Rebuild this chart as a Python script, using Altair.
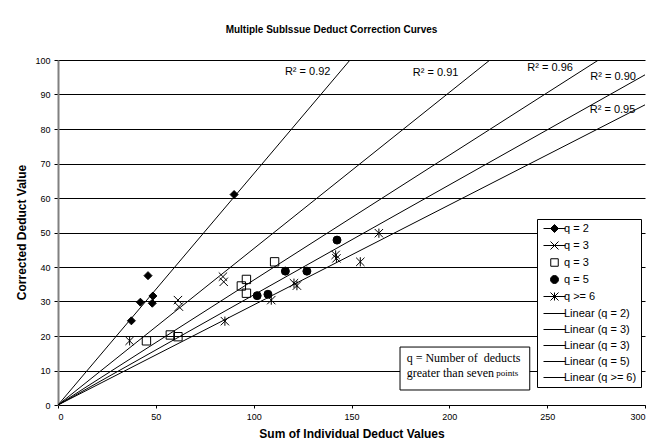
import altair as alt
import pandas as pd

# ---------------- data ----------------
q2_x = [37.5, 42.1, 46.0, 48.5, 48.2, 90.0]
q2_y = [24.4, 29.8, 37.5, 31.6, 29.5, 61.0]

q3x_x = [61.3, 61.8, 84.3, 84.7]
q3x_y = [30.4, 28.5, 37.2, 35.7]

q3s_x = [45.2, 57.4, 61.3, 93.7, 96.3, 96.3, 110.7]
q3s_y = [18.6, 20.3, 19.8, 34.5, 36.4, 32.4, 41.5]

q5_x = [101.8, 107.3, 116.2, 127.2, 142.6]
q5_y = [31.7, 32.1, 38.8, 38.8, 47.8]

q6_x = [36.6, 85.3, 109.0, 120.6, 122.1, 141.9, 142.3, 154.5, 164.0]
q6_y = [18.6, 24.3, 30.4, 35.3, 34.6, 43.5, 42.5, 41.5, 49.8]

# trend lines through the origin (slope)
fit_names = ["Linear (q = 2)", "Linear (q = 3)", "Linear (q = 3) ", "Linear (q = 5)", "Linear (q >= 6)"]
fit_slopes = [0.67, 0.453, 0.362, 0.319, 0.29]
fit_x_range = [0, 300]

# R^2 labels
r2_text = ["R\u00b2 = 0.92", "R\u00b2 = 0.91", "R\u00b2 = 0.96", "R\u00b2 = 0.90", "R\u00b2 = 0.95"]
r2_x = [127.6, 193.0, 251.5, 283.7, 283.4]
r2_y = [96.6, 96.3, 97.7, 95.2, 85.5]

# note box
note_box = [174.8, 241.1, 4.35, 16.8]
note_line1 = "q = Number of\u00a0 deducts"
note_line2 = "greater than seven"
note_small = "points"
note_x = [178.2, 224.0]
note_y = [13.7, 9.4]

legend_labels = ["q = 2", "q = 3", "q = 3 ", "q = 5", "q >= 6"] + fit_names
legend_paths = [
    "M-2.2,0L2.2,0M0,-0.8L0.8,0L0,0.8L-0.8,0Z",
    "M-2.2,0L2.2,0M-0.8,-0.8L0.8,0.8M-0.8,0.8L0.8,-0.8",
    "M-0.75,-0.75L0.75,-0.75L0.75,0.75L-0.75,0.75Z",
    "M0.8,0A0.8,0.8,0,1,1,-0.8,0A0.8,0.8,0,1,1,0.8,0Z",
    "M-2.2,0L2.2,0M-0.8,-0.8L0.8,0.8M-0.8,0.8L0.8,-0.8M0,-0.8L0,0.8",
] + ["M-2.2,0L2.2,0"] * 5
legend_fills = ["black", "transparent", "transparent", "black", "transparent"] + ["transparent"] * 5

FONT = "Liberation Sans"
X_PATH = "M-1,-1L1,1M-1,1L1,-1"
STAR_PATH = "M-1,-1L1,1M-1,1L1,-1M0,-1.1L0,1.1"

xs = alt.Scale(domain=[0, 300], nice=False)
ys = alt.Scale(domain=[0, 100], nice=False)

x_axis = alt.Axis(values=[0, 50, 100, 150, 200, 250, 300], grid=False, domainColor="black",
                  domainWidth=1, tickColor="black", tickSize=3, labelFont=FONT, labelFontSize=9,
                  labelColor="black", labelPadding=4, title="Sum of Individual Deduct Values",
                  titleFont=FONT, titleFontSize=12, titleFontWeight="bold", titleColor="black",
                  titleY=28, titleBaseline="middle")
y_axis = alt.Axis(values=list(range(0, 101, 10)), grid=True, gridColor="black", gridWidth=1,
                  gridOpacity=1, domainColor="#808080", domainWidth=2, tickColor="black",
                  tickSize=4, labelFont=FONT, labelFontSize=9, labelColor="black", labelPadding=4,
                  labelOverlap=False,
                  title="Corrected Deduct Value", titleFont=FONT, titleFontSize=12,
                  titleFontWeight="bold", titleColor="black", titleX=-37, titleY=172,
                  titleBaseline="middle", titleAlign="center")

X = alt.X("x:Q", scale=xs, axis=x_axis)
Y = alt.Y("y:Q", scale=ys, axis=y_axis)

fit_rows = []
for name, s in zip(fit_names, fit_slopes):
    for xv in fit_x_range:
        fit_rows.append({"fit": name, "x": xv, "slope": s})
fit_df = pd.DataFrame(fit_rows)

lines = alt.Chart(fit_df).transform_calculate(y="datum.slope * datum.x").mark_line(
    clip=True, color="black", strokeWidth=1
).encode(x=X, y=Y, detail="fit:N")


def pts(xv, yv, shape, filled, size):
    df = pd.DataFrame({"x": xv, "y": yv})
    return alt.Chart(df).mark_point(
        shape=shape, filled=filled, size=size, opacity=1, strokeWidth=1,
        color="black", stroke="black", fill="black" if filled else "transparent",
    ).encode(x=X, y=Y)


p_q2 = pts(q2_x, q2_y, "diamond", True, 64)
p_q3x = pts(q3x_x, q3x_y, X_PATH, False, 70)
p_q3s = pts(q3s_x, q3s_y, "square", False, 70)
p_q5 = pts(q5_x, q5_y, "circle", True, 64)
p_q6 = pts(q6_x, q6_y, STAR_PATH, False, 70)

r2_df = pd.DataFrame({"x": r2_x, "y": r2_y, "t": r2_text})
r2 = alt.Chart(r2_df).mark_text(font=FONT, fontSize=11, color="black", align="center",
                                baseline="middle").encode(x=X, y=Y, text="t:N")

box_df = pd.DataFrame({"x": [note_box[0]], "x2": [note_box[1]], "y": [note_box[2]], "y2": [note_box[3]]})
box = alt.Chart(box_df).mark_rect(fill="white", stroke="black", strokeWidth=1).encode(
    x=X, x2="x2", y=Y, y2="y2")

note_df = pd.DataFrame({"x": [note_x[0], note_x[0]], "y": [note_y[0], note_y[1]],
                        "t": [note_line1, note_line2]})
note = alt.Chart(note_df).mark_text(font="Liberation Serif", fontSize=12, color="black",
                                    align="left", baseline="middle").encode(x=X, y=Y, text="t:N")
note2_df = pd.DataFrame({"x": [note_x[1]], "y": [note_y[1]], "t": [note_small]})
note2 = alt.Chart(note2_df).mark_text(font="Liberation Serif", fontSize=9, color="black",
                                      align="left", baseline="middle").encode(x=X, y=Y, text="t:N")

leg_props = dict(orient="none", legendX=479, legendY=159, title=None, padding=4,
                 strokeColor="black", fillColor="white", labelFont=FONT, labelFontSize=11,
                 labelColor="black", symbolSize=100, rowPadding=4, labelOffset=4,
                 symbolStrokeWidth=1, symbolOffset=8)
leg_df = pd.DataFrame({"label": legend_labels})
legend_layer = alt.Chart(leg_df).mark_point(
    clip=True, filled=True, size=100, opacity=1, strokeWidth=1
).encode(
    x=alt.value(-200), y=alt.value(-200),
    shape=alt.Shape("label:N", scale=alt.Scale(domain=legend_labels, range=legend_paths),
                    legend=alt.Legend(**leg_props)),
    fill=alt.Fill("label:N", scale=alt.Scale(domain=legend_labels, range=legend_fills),
                  legend=alt.Legend(**leg_props)),
    stroke=alt.Stroke("label:N", scale=alt.Scale(domain=legend_labels, range=["black"] * 10),
                      legend=alt.Legend(**leg_props)),
)

chart = alt.layer(lines, p_q2, p_q3x, p_q3s, p_q5, p_q6, r2, box, note, note2, legend_layer).properties(
    width=587, height=345,
    title=alt.TitleParams("Multiple SubIssue Deduct Correction Curves", font=FONT, fontSize=10,
                          fontWeight="bold", color="black", anchor="middle", dx=-20,
                          offset=11, baseline="bottom"),
    autosize=alt.AutoSizeParams(type="none"),
    padding={"left": 50, "top": 52, "right": 2, "bottom": 34},
).configure_view(stroke=None)

chart.save("out.html", embed_options={"renderer": "svg", "actions": False})
